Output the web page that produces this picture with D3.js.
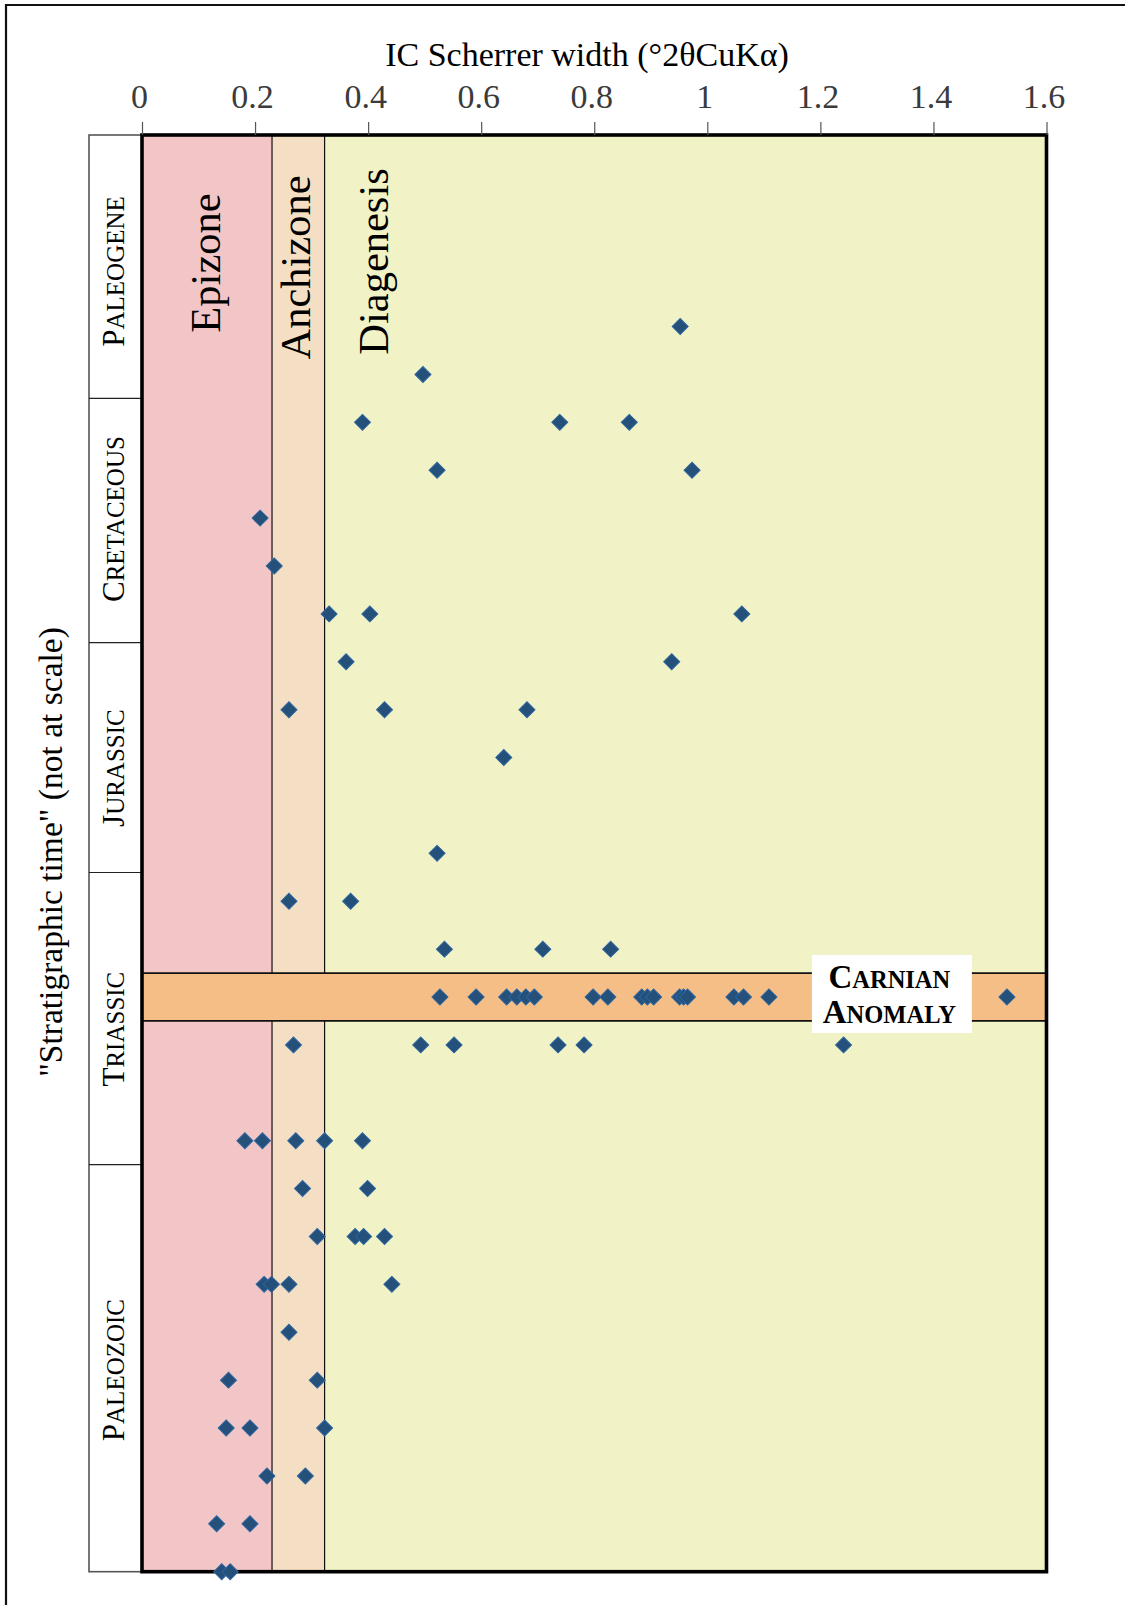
<!DOCTYPE html>
<html>
<head>
<meta charset="utf-8">
<title>IC Scherrer width through stratigraphic time</title>
<script src="https://cdn.jsdelivr.net/npm/d3@7"></script>
<style>
  html, body { margin: 0; padding: 0; background: #fff; }
  svg { display: block; }
</style>
</head>
<body>
<svg id="chart" width="1125" height="1605"></svg>
<script>
// ---- data ----------------------------------------------------------------
// x axis ticks
const tickValues = [0, 0.2, 0.4, 0.6, 0.8, 1, 1.2, 1.4, 1.6];
const tickLabels = ["0", "0.2", "0.4", "0.6", "0.8", "1", "1.2", "1.4", "1.6"];

// metamorphic zones (upper IC limit of each zone)
const zoneNames = ["Epizone", "Anchizone", "Diagenesis"];
const zoneLimits = [0.23, 0.323, 1.6];
const zoneColors = ["#f2c5c7", "#f4dfc4", "#f1f2c6"];

// stratigraphic column (levels are "not at scale" positions, 0 = oldest)
const eraNames = ["Paleogene", "Cretaceous", "Jurassic", "Triassic", "Paleozoic"];
const eraTops = [30, 24.5, 19.4, 14.6, 8.5];
const eraLabelLevels = [27.15, 21.98, 16.78, 11.33, 4.21];
const eraBase = 0;

// Carnian anomaly band
const carnianBand = [11.5, 12.5];

// samples: stratigraphic level and IC values measured at that level
const sampleLevels = [26, 25, 24, 23, 22, 21, 20, 19, 18, 17, 15, 14, 13, 12, 11, 9, 8, 7, 6, 5, 4, 3, 2, 1, 0];
const sampleIC = [
  [0.952],
  [0.497],
  [0.390, 0.739, 0.862],
  [0.522, 0.973],
  [0.209],
  [0.234],
  [0.331, 0.403, 1.061],
  [0.361, 0.937],
  [0.260, 0.429, 0.681],
  [0.640],
  [0.522],
  [0.260, 0.369],
  [0.535, 0.709, 0.829],
  [0.527, 0.591, 0.645, 0.663, 0.679, 0.694, 0.798, 0.824, 0.884, 0.894, 0.905,
   0.951, 0.958, 0.965, 1.047, 1.064, 1.109, 1.530],
  [0.268, 0.493, 0.552, 0.736, 0.782, 1.241],
  [0.182, 0.213, 0.272, 0.323, 0.390],
  [0.284, 0.399],
  [0.310, 0.377, 0.392, 0.429],
  [0.216, 0.229, 0.260, 0.442],
  [0.260],
  [0.153, 0.310],
  [0.149, 0.191, 0.323],
  [0.221, 0.289],
  [0.132, 0.191],
  [0.141, 0.156]
];

// ---- layout ---------------------------------------------------------------
const SERIF = "'Liberation Serif', 'Times New Roman', Times, serif";
const plot = { left: 142, right: 1046.5, top: 135, bottom: 1571.7 };
const column = { left: 89, right: 142 };

const svg = d3.select("#chart");

const x = d3.scaleLinear().domain([0, 1.6]).range([plot.left, plot.right]);
const y = d3.scaleLinear().domain([0, 30]).range([plot.bottom, plot.top]);

// page frame (top and left rules)
svg.append("line").attr("x1", 5).attr("x2", 1125).attr("y1", 5).attr("y2", 5)
  .attr("stroke", "#111").attr("stroke-width", 2.2);
svg.append("line").attr("x1", 6).attr("x2", 6).attr("y1", 4).attr("y2", 1605)
  .attr("stroke", "#111").attr("stroke-width", 2.2);

// zone backgrounds
const zoneStarts = [0].concat(zoneLimits.slice(0, -1));
svg.append("g").selectAll("rect")
  .data(zoneNames)
  .join("rect")
  .attr("x", (d, i) => x(zoneStarts[i]))
  .attr("width", (d, i) => x(zoneLimits[i]) - x(zoneStarts[i]))
  .attr("y", y(30))
  .attr("height", y(0) - y(30))
  .attr("fill", (d, i) => zoneColors[i]);

// zone boundaries
svg.append("g").selectAll("line")
  .data(zoneLimits.slice(0, -1))
  .join("line")
  .attr("x1", d => x(d)).attr("x2", d => x(d))
  .attr("y1", y(30)).attr("y2", y(0))
  .attr("stroke", "#111").attr("stroke-width", 1.2);

// Carnian anomaly band
svg.append("rect")
  .attr("x", x(0)).attr("width", x(1.6) - x(0))
  .attr("y", y(carnianBand[1])).attr("height", y(carnianBand[0]) - y(carnianBand[1]))
  .attr("fill", "#f5be86");
svg.append("g").selectAll("line")
  .data(carnianBand)
  .join("line")
  .attr("x1", x(0)).attr("x2", x(1.6))
  .attr("y1", d => y(d)).attr("y2", d => y(d))
  .attr("stroke", "#111").attr("stroke-width", 1.8);

// zone labels (vertical)
const zoneLabelPos = [
  { base: 219.5, mid: 263 },
  { base: 310, mid: 267.5 },
  { base: 388, mid: 261.5 }
];
svg.append("g").selectAll("text")
  .data(zoneNames)
  .join("text")
  .attr("transform", (d, i) => `translate(${zoneLabelPos[i].base},${zoneLabelPos[i].mid}) rotate(-90)`)
  .attr("text-anchor", "middle")
  .attr("font-family", SERIF)
  .attr("font-size", 42.5)
  .attr("fill", "#000")
  .text(d => d);

// stratigraphic column
const colG = svg.append("g");
colG.append("rect")
  .attr("x", column.left).attr("width", column.right - column.left)
  .attr("y", y(30)).attr("height", y(eraBase) - y(30))
  .attr("fill", "#fff").attr("stroke", "#555").attr("stroke-width", 1.6);
colG.selectAll("line.div")
  .data(eraTops.slice(1))
  .join("line")
  .attr("class", "div")
  .attr("x1", column.left).attr("x2", column.right)
  .attr("y1", d => y(d)).attr("y2", d => y(d))
  .attr("stroke", "#222").attr("stroke-width", 1.2);

function smallCaps(sel, word, big, small) {
  sel.append("tspan").attr("font-size", big).text(word[0].toUpperCase());
  sel.append("tspan").attr("font-size", small).text(word.slice(1).toUpperCase());
}

eraNames.forEach((name, i) => {
  const t = colG.append("text")
    .attr("transform", `translate(123.5,${y(eraLabelLevels[i])}) rotate(-90)`)
    .attr("text-anchor", "middle")
    .attr("font-family", SERIF)
    .attr("fill", "#000");
  smallCaps(t, name, 31, 25);
});

// plot frame
svg.append("rect")
  .attr("x", x(0)).attr("y", y(30))
  .attr("width", x(1.6) - x(0)).attr("height", y(0) - y(30))
  .attr("fill", "none").attr("stroke", "#000").attr("stroke-width", 3.6);

// x axis on top
const axis = d3.axisTop(x)
  .tickValues(tickValues)
  .tickFormat((d, i) => tickLabels[i])
  .tickSize(13)
  .tickPadding(14.5);
const axG = svg.append("g").attr("transform", `translate(0,${y(30)})`).call(axis);
axG.select(".domain").remove();
axG.selectAll(".tick line").attr("stroke", "#555").attr("stroke-width", 1.2);
axG.selectAll(".tick text")
  .attr("font-family", SERIF)
  .attr("font-size", 34)
  .attr("fill", "#3b3b3b")
  .attr("dx", -3);

// axis titles
svg.append("text")
  .attr("x", 587).attr("y", 66)
  .attr("text-anchor", "middle")
  .attr("font-family", SERIF)
  .attr("font-size", 34)
  .attr("fill", "#000")
  .text("IC Scherrer width (°2θCuKα)");

svg.append("text")
  .attr("transform", "translate(62,852) rotate(-90)")
  .attr("text-anchor", "middle")
  .attr("font-family", SERIF)
  .attr("font-size", 33.5)
  .attr("fill", "#000")
  .text("\"Stratigraphic time\" (not at scale)");

// Carnian anomaly label
const labG = svg.append("g");
labG.append("rect")
  .attr("x", x(1.185)).attr("width", x(1.468) - x(1.185))
  .attr("y", 955).attr("height", 78)
  .attr("fill", "#fff");
const labX = x(1.322);
const l1 = labG.append("text").attr("x", labX).attr("y", 988)
  .attr("text-anchor", "middle").attr("font-family", SERIF).attr("font-weight", "bold");
smallCaps(l1, "Carnian", 33, 24.5);
const l2 = labG.append("text").attr("x", labX).attr("y", 1022.5)
  .attr("text-anchor", "middle").attr("font-family", SERIF).attr("font-weight", "bold");
smallCaps(l2, "Anomaly", 33, 24.5);

// sample markers (diamonds)
const points = [];
sampleLevels.forEach((lev, i) => sampleIC[i].forEach(v => points.push({ level: lev, ic: v })));
const diamond = d3.symbol().type(d3.symbolSquare).size(128);
svg.append("g").selectAll("path")
  .data(points)
  .join("path")
  .attr("d", diamond)
  .attr("transform", d => `translate(${x(d.ic)},${y(d.level)}) rotate(45)`)
  .attr("fill", "#24507a")
  .attr("stroke", "#2c65a0")
  .attr("stroke-width", 1);
</script>
</body>
</html>
